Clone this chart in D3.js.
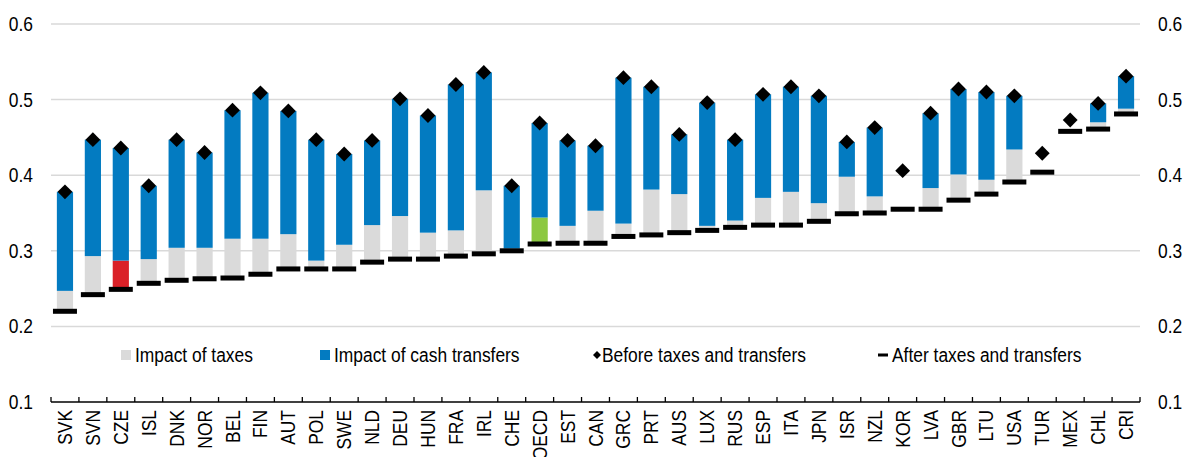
<!DOCTYPE html>
<html lang="en">
<head>
  <meta charset="UTF-8">
  <title>Income inequality before and after taxes and transfers</title>
  <script src="https://d3js.org/d3.v7.min.js"></script>
  <style>
    body {
      margin: 0;
      padding: 0;
      background: #fff;
    }
    svg text {
      font-family: "Liberation Sans Narrow", "Arial Narrow", "Liberation Sans", Arial, sans-serif;
      font-size: 20px;
      fill: #000;
    }
  </style>
</head>
<body>
  <div id="chart"></div>
  <script>
    const countries = ["SVK", "SVN", "CZE", "ISL", "DNK", "NOR", "BEL", "FIN", "AUT", "POL",
      "SWE", "NLD", "DEU", "HUN", "FRA", "IRL", "CHE", "OECD", "EST", "CAN",
      "GRC", "PRT", "AUS", "LUX", "RUS", "ESP", "ITA", "JPN", "ISR", "NZL",
      "KOR", "LVA", "GBR", "LTU", "USA", "TUR", "MEX", "CHL", "CRI"];

    // Gini after taxes and transfers
    const afterValues = [0.220, 0.242, 0.249, 0.257, 0.261, 0.263, 0.264, 0.269, 0.276, 0.276,
      0.276, 0.285, 0.289, 0.289, 0.293, 0.296, 0.300, 0.309, 0.310, 0.310,
      0.319, 0.321, 0.324, 0.327, 0.331, 0.334, 0.334, 0.339, 0.349, 0.350,
      0.355, 0.355, 0.367, 0.375, 0.391, 0.404, 0.458, 0.461, 0.481];

    // Impact of taxes (null = not available)
    const taxValues = [0.027, 0.051, 0.038, 0.032, 0.043, 0.041, 0.052, 0.047, 0.046, 0.011,
      0.032, 0.049, 0.057, 0.035, 0.034, 0.084, 0.003, 0.035, 0.023, 0.043,
      0.017, 0.060, 0.051, 0.006, 0.009, 0.036, 0.044, 0.024, 0.049, 0.022,
      null, 0.028, 0.034, 0.019, 0.043, null, null, 0.009, 0.007];

    // Impact of cash transfers
    const transferValues = [0.131, 0.154, 0.149, 0.097, 0.143, 0.126, 0.170, 0.193, 0.163, 0.160,
      0.120, 0.112, 0.155, 0.155, 0.193, 0.156, 0.083, 0.125, 0.113, 0.086,
      0.193, 0.136, 0.079, 0.163, 0.107, 0.137, 0.139, 0.142, 0.046, 0.091,
      null, 0.099, 0.113, 0.116, 0.071, null, null, 0.025, 0.043];

    // Gini before taxes and transfers
    const beforeValues = [0.378, 0.447, 0.436, 0.386, 0.447, 0.430, 0.486, 0.509, 0.485, 0.447,
      0.428, 0.446, 0.501, 0.479, 0.520, 0.536, 0.386, 0.469, 0.446, 0.439,
      0.529, 0.517, 0.454, 0.496, 0.447, 0.507, 0.517, 0.505, 0.444, 0.463,
      0.406, 0.482, 0.514, 0.510, 0.505, 0.429, 0.473, 0.495, 0.531];

    const yTicks = [0.1, 0.2, 0.3, 0.4, 0.5, 0.6];

    const legendLabels = ["Impact of taxes", "Impact of cash transfers",
      "Before taxes and transfers", "After taxes and transfers"];

    const width = 1184, height = 457;
    const margin = { top: 24, right: 44, bottom: 55, left: 51 };
    const narrow = 0.87; // no Arial Narrow here, so squeeze the regular face

    const colors = {
      taxes: "#dadada",
      transfers: "#037bc1",
      czeTaxes: "#da2128",
      oecdTaxes: "#8cc841",
      grid: "#d9d9d9"
    };

    const data = countries.map((c, i) => ({
      country: c,
      after: afterValues[i],
      taxes: taxValues[i] || 0,
      transfers: transferValues[i] || 0,
      before: beforeValues[i]
    }));

    const svg = d3.select("#chart")
      .append("svg")
      .attr("width", width)
      .attr("height", height);

    const x = d3.scaleBand()
      .domain(countries)
      .range([margin.left, width - margin.right]);

    const y = d3.scaleLinear()
      .domain([0.1, 0.6])
      .range([height - margin.bottom, margin.top]);

    // gridlines
    svg.append("g")
      .selectAll("line")
      .data(yTicks.filter(d => d > 0.1))
      .join("line")
      .attr("x1", x.range()[0])
      .attr("x2", x.range()[1])
      .attr("y1", d => y(d))
      .attr("y2", d => y(d))
      .attr("stroke", colors.grid)
      .attr("stroke-width", 1.5);

    // y axes on both sides
    const fmt = d3.format(".1f");
    const leftAxis = svg.append("g")
      .attr("transform", `translate(${x.range()[0] - 18},0)`)
      .call(d3.axisLeft(y).tickValues(yTicks).tickSize(0).tickPadding(0).tickFormat(fmt));
    const rightAxis = svg.append("g")
      .attr("transform", `translate(${x.range()[1] + 18},0)`)
      .call(d3.axisRight(y).tickValues(yTicks).tickSize(0).tickPadding(0).tickFormat(fmt));
    [leftAxis, rightAxis].forEach(g => {
      g.select(".domain").remove();
      g.selectAll("text")
        .attr("font-size", null)
        .attr("font-family", null)
        .attr("fill", "#000")
        .attr("x", 0)
        .attr("transform", `scale(${narrow},1)`);
    });

    // stacked bars: invisible base at "after", then taxes, then transfers
    const stack = d3.stack().keys(["after", "taxes", "transfers"]);
    const layers = stack(data);
    const barW = x.bandwidth() * 0.58;

    function fillFor(key, d) {
      if (key === "taxes") {
        if (d.data.country === "CZE") return colors.czeTaxes;
        if (d.data.country === "OECD") return colors.oecdTaxes;
        return colors.taxes;
      }
      return colors.transfers;
    }

    svg.append("g")
      .selectAll("g")
      .data(layers.slice(1))
      .join("g")
      .each(function (layer) {
        d3.select(this).selectAll("rect")
          .data(layer.filter(d => d[1] - d[0] > 0))
          .join("rect")
          .attr("x", d => x(d.data.country) + (x.bandwidth() - barW) / 2)
          .attr("width", barW)
          .attr("y", d => y(d[1]))
          .attr("height", d => y(d[0]) - y(d[1]))
          .attr("fill", d => fillFor(layer.key, d));
      });

    // after taxes and transfers: dashes
    const dashW = 24, dashH = 5;
    svg.append("g")
      .selectAll("rect")
      .data(data)
      .join("rect")
      .attr("x", d => x(d.country) + x.bandwidth() / 2 - dashW / 2)
      .attr("y", d => y(d.after) - dashH / 2)
      .attr("width", dashW)
      .attr("height", dashH)
      .attr("fill", "#000");

    // before taxes and transfers: diamonds
    const diamond = d3.symbol().type(d3.symbolSquare).size(110);
    svg.append("g")
      .selectAll("path")
      .data(data)
      .join("path")
      .attr("d", diamond)
      .attr("transform", d => `translate(${x(d.country) + x.bandwidth() / 2},${y(d.before)}) rotate(45)`)
      .attr("fill", "#000");

    // x axis line with ticks between categories
    const axisY = y(0.1);
    const xAxis = svg.append("g");
    xAxis.append("line")
      .attr("x1", x.range()[0])
      .attr("x2", x.range()[1])
      .attr("y1", axisY)
      .attr("y2", axisY)
      .attr("stroke", "#000")
      .attr("stroke-width", 1.3);
    xAxis.selectAll(".tick")
      .data(countries.map(c => x(c)).concat([x.range()[1]]))
      .join("line")
      .attr("class", "tick")
      .attr("x1", d => d)
      .attr("x2", d => d)
      .attr("y1", axisY)
      .attr("y2", axisY - 5)
      .attr("stroke", "#000")
      .attr("stroke-width", 1.3);
    xAxis.selectAll("text")
      .data(countries)
      .join("text")
      .attr("transform", d => `translate(${x(d) + x.bandwidth() / 2},${axisY + 8}) rotate(-90) scale(${narrow},1)`)
      .attr("text-anchor", "end")
      .attr("dy", "0.35em")
      .text(d => d);

    // legend
    const legendY = 355;
    const legend = svg.append("g");
    const legendX = [121, 320, 593, 878];

    legend.append("rect")
      .attr("x", legendX[0]).attr("y", legendY - 5)
      .attr("width", 10).attr("height", 10)
      .attr("fill", colors.taxes);
    legend.append("rect")
      .attr("x", legendX[1]).attr("y", legendY - 5)
      .attr("width", 10).attr("height", 10)
      .attr("fill", colors.transfers);
    legend.append("path")
      .attr("d", d3.symbol().type(d3.symbolSquare).size(32))
      .attr("transform", `translate(${legendX[2] + 4},${legendY}) rotate(45)`)
      .attr("fill", "#000");
    legend.append("rect")
      .attr("x", legendX[3]).attr("y", legendY - 1.5)
      .attr("width", 10).attr("height", 3)
      .attr("fill", "#000");

    legend.selectAll("text")
      .data(legendLabels)
      .join("text")
      .attr("transform", (d, i) => `translate(${legendX[i] + (i === 2 ? 9 : 14)},${legendY}) scale(${narrow},1)`)
      .attr("dy", "0.36em")
      .text(d => d);
  </script>
</body>
</html>
